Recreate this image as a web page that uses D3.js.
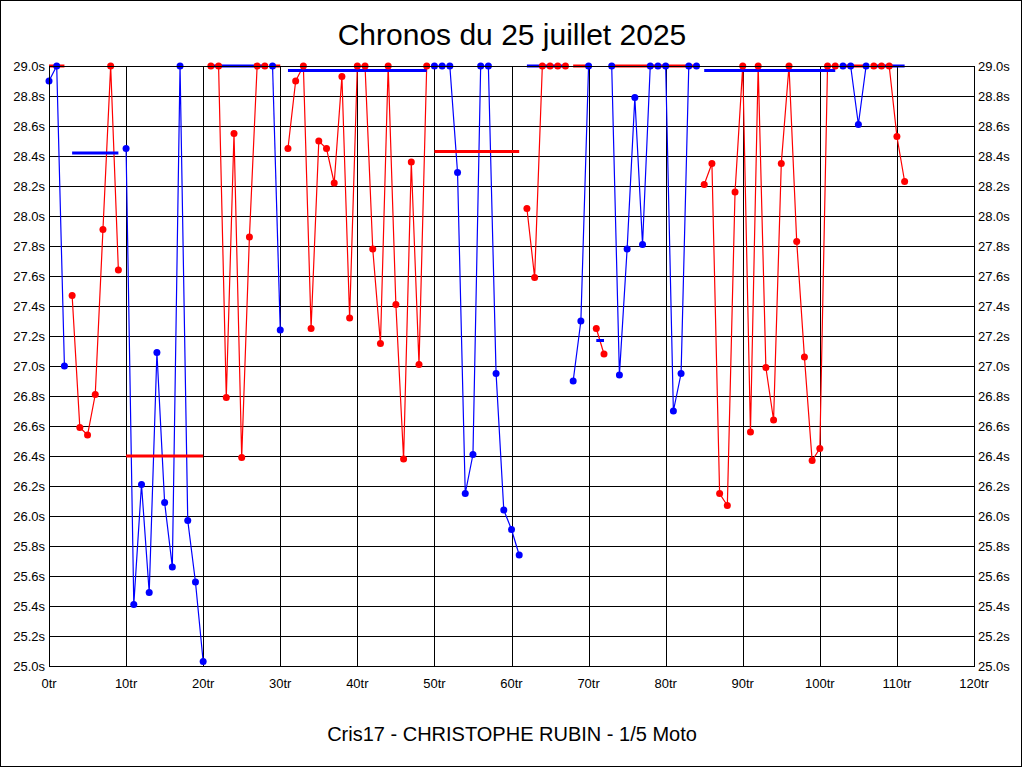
<!DOCTYPE html>
<html>
<head>
<meta charset="utf-8">
<script src="https://cdn.jsdelivr.net/npm/d3@7"></script>
<style>
  html, body { margin: 0; padding: 0; background: #fff; }
  svg { display: block; font-family: "Liberation Sans", Arial, sans-serif; }
</style>
</head>
<body>
<svg id="chart" width="1024" height="768"></svg>
<script>
// lap time per lap (s), values above 29s are shown capped at 29.0
const lapTimes = [
  28.90, 29.0, 27.00, 27.47, 26.59, 26.54, 26.81, 27.91, 29.0, 27.64,
  28.45, 25.41, 26.21, 25.49, 27.09, 26.09, 25.66, 29.0, 25.97, 25.56,
  25.03, 29.0, 29.0, 26.79, 28.55, 26.39, 27.86, 29.0, 29.0, 29.0,
  27.24, 28.45, 28.90, 29.0, 27.25, 28.50, 28.45, 28.22, 28.93, 27.32,
  29.0, 29.0, 27.78, 27.15, 29.0, 27.41, 26.38, 28.36, 27.01, 29.0,
  29.0, 29.0, 29.0, 28.29, 26.15, 26.41, 29.0, 29.0, 26.95, 26.04,
  25.91, 25.74, 28.05, 27.59, 29.0, 29.0, 29.0, 29.0, 26.90, 27.30,
  29.0, 27.25, 27.08, 29.0, 26.94, 27.78, 28.79, 27.81, 29.0, 29.0,
  29.0, 26.70, 26.95, 29.0, 29.0, 28.21, 28.35, 26.15, 26.07, 28.16,
  29.0, 26.56, 29.0, 26.99, 26.64, 28.35, 29.0, 27.83, 27.06, 26.37,
  26.45, 29.0, 29.0, 29.0, 29.0, 28.61, 29.0, 29.0, 29.0, 29.0,
  28.53, 28.23
];

// first lap of each run (segment), colour alternates blue / red
const segStart = [0, 3, 10, 21, 29, 31, 50, 62, 68, 71, 73, 85, 103, 107];
const segColor = ["blue", "red", "blue", "red", "blue", "red", "blue", "red", "blue", "red", "blue", "red", "blue", "red"];
// average of each run (drawn in the other colour)
const segMean = [29.0, 28.42, 26.40, 29.0, 29.0, 28.97, 28.43, 29.0, 29.0, 27.17, 29.0, 28.97, 29.0, 29.0];

const yTicks = d3.range(0, 21).map(i => 25 + i * 0.2);
const xTicks = d3.range(0, 121, 10);

const title = "Chronos du 25 juillet 2025";
const subtitle = "Cris17 - CHRISTOPHE RUBIN - 1/5 Moto";

const colors = { blue: "#0000ff", red: "#ff0000" };

const svg = d3.select("#chart");
const plot = { left: 49, right: 974, top: 66, bottom: 666 };

const x = d3.scaleLinear().domain([0, 120]).range([plot.left, plot.right]);
const y = d3.scaleLinear().domain([25, 29]).range([plot.bottom, plot.top]);

// outer frame
svg.append("rect")
  .attr("x", 0.5).attr("y", 0.5)
  .attr("width", 1021).attr("height", 766)
  .attr("fill", "#fff").attr("stroke", "#000");

// title + footer
svg.append("text")
  .attr("x", 512).attr("y", 45)
  .attr("text-anchor", "middle")
  .style("font-size", "30px")
  .text(title);
svg.append("text")
  .attr("x", 512).attr("y", 741)
  .attr("text-anchor", "middle")
  .style("font-size", "20px")
  .text(subtitle);

// grid
const grid = svg.append("g").attr("shape-rendering", "crispEdges");
grid.selectAll(".hg")
  .data(yTicks)
  .enter().append("line")
    .attr("x1", plot.left).attr("x2", plot.right)
    .attr("y1", d => Math.round(y(d)) + 0.5).attr("y2", d => Math.round(y(d)) + 0.5)
    .attr("stroke", "#000");
grid.selectAll(".vg")
  .data(xTicks)
  .enter().append("line")
    .attr("x1", d => Math.round(x(d)) + 0.5).attr("x2", d => Math.round(x(d)) + 0.5)
    .attr("y1", plot.top).attr("y2", plot.bottom)
    .attr("stroke", "#000");

// tick labels both sides + bottom
const lab = svg.append("g").style("font-size", "13px").attr("fill", "#000");
lab.selectAll(".yl")
  .data(yTicks)
  .enter().append("text")
    .attr("x", plot.left - 4).attr("y", d => y(d))
    .attr("dy", "0.36em")
    .attr("text-anchor", "end")
    .text(d => d.toFixed(1) + "s");
lab.selectAll(".yr")
  .data(yTicks)
  .enter().append("text")
    .attr("x", plot.right + 4).attr("y", d => y(d))
    .attr("dy", "0.36em")
    .attr("text-anchor", "start")
    .text(d => d.toFixed(1) + "s");
lab.selectAll(".xl")
  .data(xTicks)
  .enter().append("text")
    .attr("x", d => x(d)).attr("y", 688)
    .attr("text-anchor", "middle")
    .text(d => d + "tr");

// build the runs
const segments = segStart.map((s, i) => {
  const end = i < segStart.length - 1 ? segStart[i + 1] - 1 : lapTimes.length - 1;
  const pts = d3.range(s, end + 1).map(lap => ({ lap: lap, t: lapTimes[lap] }));
  return { start: s, end: end, color: segColor[i], mean: segMean[i], pts: pts };
});

const line = d3.line().x(d => x(d.lap)).y(d => y(d.t));

// lap lines
svg.append("g").selectAll("path")
  .data(segments)
  .enter().append("path")
    .attr("d", d => line(d.pts))
    .attr("fill", "none")
    .attr("stroke", d => colors[d.color])
    .attr("stroke-width", 1.2);

// average lines, in the other colour
svg.append("g").selectAll("line")
  .data(segments)
  .enter().append("line")
    .attr("x1", d => x(d.start)).attr("x2", d => x(d.end))
    .attr("y1", d => y(d.mean)).attr("y2", d => y(d.mean))
    .attr("stroke", d => d.color === "blue" ? colors.red : colors.blue)
    .attr("stroke-width", 3);

// markers
svg.append("g").selectAll("g")
  .data(segments)
  .enter().append("g")
    .attr("fill", d => colors[d.color])
  .selectAll("circle")
  .data(d => d.pts)
  .enter().append("circle")
    .attr("cx", d => x(d.lap))
    .attr("cy", d => y(d.t))
    .attr("r", 3.5);

// plot frame
svg.append("rect")
  .attr("x", plot.left + 0.5).attr("y", plot.top + 0.5)
  .attr("width", plot.right - plot.left).attr("height", plot.bottom - plot.top)
  .attr("fill", "none").attr("stroke", "#000")
  .attr("shape-rendering", "crispEdges");
</script>
</body>
</html>
